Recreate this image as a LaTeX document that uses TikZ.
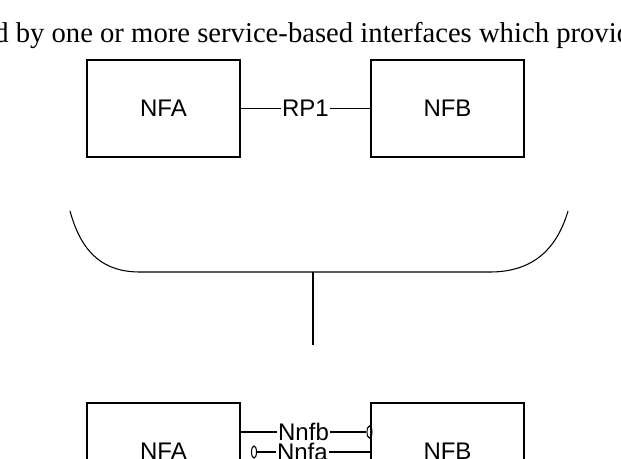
\documentclass[tikz,border=0pt]{standalone}
\usepackage{fontspec}
\setmainfont{Liberation Sans}
\newfontfamily\bodyfont{Liberation Serif}
\usetikzlibrary{positioning}
\tikzset{
  nf/.style={draw, thick, minimum width=153*0.75pt, minimum height=97*0.75pt, font=\fontsize{18pt}{21pt}\selectfont},
  lbl/.style={font=\fontsize{18pt}{21pt}\selectfont, fill=white, inner sep=1pt},
  plug/.style={draw, thick, ellipse, minimum width=5*0.75pt, minimum height=12*0.75pt, inner sep=0pt}
}
\usetikzlibrary{shapes}
\begin{document}
\begin{tikzpicture}[x=0.75pt, y=-0.75pt]
  \useasboundingbox (0,0) rectangle (621,459);
  \clip (0,0) rectangle (621,459);
  % text of the page
  \node[font=\bodyfont\fontsize{21.5pt}{25pt}\selectfont, anchor=base west, inner sep=0pt] (txt) at (-6,43) {d by one or more service-based interfaces which provide};
  % upper pair
  \node[nf] (nfa1) at (163.5,108.5) {NFA};
  \node[nf] (nfb1) at (447.5,108.5) {NFB};
  \draw[thick] (nfa1) -- node[lbl] {RP1} (nfb1);
  % bus
  \coordinate (bl) at (70,211);
  \coordinate (br) at (568,211);
  \coordinate (bm) at (313,272);
  \coordinate (bb) at (313,345);
  \draw[thick] (bl) .. controls (82,255) and (105,272) .. (140,272) -- (490,272)
    .. controls (530,272) and (556,252) .. (br);
  \draw[thick] (bm) -- (bb);
  % lower pair
  \node[nf] (nfa2) at (163.5,451.5) {NFA};
  \node[nf] (nfb2) at (447.5,451.5) {NFB};
  \node[plug] (pb) at (369.5,432) {};
  \node[plug] (pa) at (254,452) {};
  \coordinate (b1) at (nfa2.east |- pb);
  \coordinate (b2) at (nfb2.west |- pa);
  \draw[thick] (b1) -- node[lbl, pos=0.5] {Nnfb} (pb);
  \draw[thick] (pa) -- node[lbl, pos=0.4] {Nnfa} (b2);
\end{tikzpicture}
\end{document}
